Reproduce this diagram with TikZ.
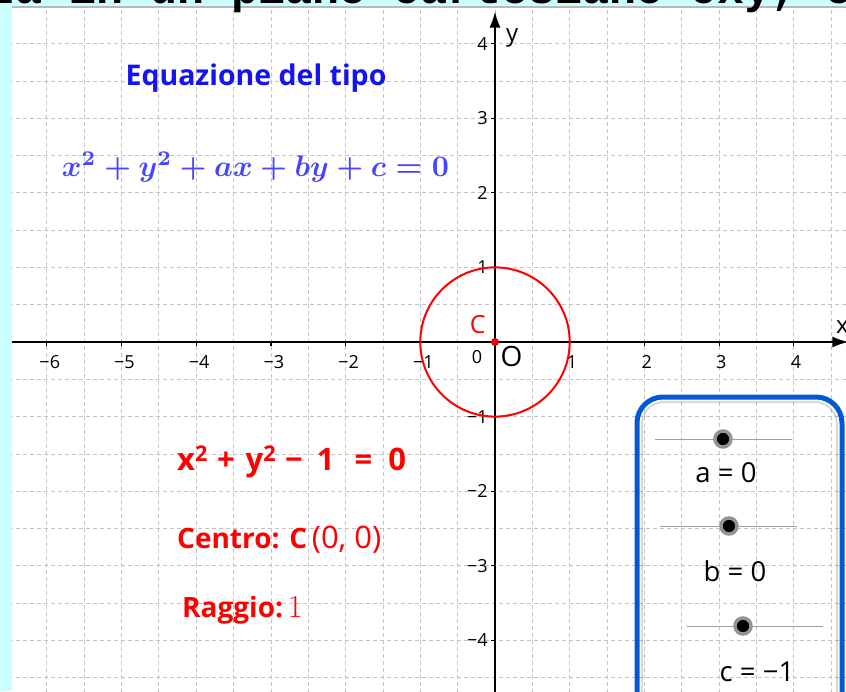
\documentclass[tikz,border=0pt]{standalone}
\usepackage{fontspec}
\usepackage{graphicx}
\usetikzlibrary{arrows.meta}
\newfontfamily\osans{Open Sans}
\newfontfamily\monob{Liberation Mono}
\definecolor{bgcyan}{RGB}{204,255,255}
\definecolor{gridc}{RGB}{195,195,195}
\definecolor{eqblue}{RGB}{20,20,240}
\definecolor{formblue}{RGB}{70,70,255}
\definecolor{boxblue}{RGB}{0,90,215}
\definecolor{txtred}{RGB}{255,0,0}
\tikzset{
  gridl/.style={draw=gridc, line width=0.8pt, dash pattern=on 4pt off 3pt},
  axisl/.style={line width=1.8pt, -{Latex[length=16pt,width=11pt]}},
  ticklab/.style={font=\osans\fontsize{18}{18}\selectfont, inner sep=0pt},
  bluet/.style={font=\osans\bfseries\fontsize{28.5}{28.5}\selectfont, text=eqblue, inner sep=0pt},
  redt/.style={font=\osans\bfseries\fontsize{28}{28}\selectfont, text=txtred, inner sep=0pt},
  sliderl/.style={draw=gray!75, line width=1pt},
  knob/.style={circle, fill=black, inner sep=0pt, minimum size=16pt, draw=gray!85, line width=3.5pt},
  slab/.style={font=\osans\fontsize{27.5}{27.5}\selectfont, inner sep=0pt}
}
\begin{document}
\begin{tikzpicture}[x=1pt,y=-1pt]
\useasboundingbox (0,0) rectangle (846,691);
\fill[white] (0,0) rectangle (846,691);
% grid
\begin{scope}
\clip (12,7) rectangle (846,691);
\begin{scope}[shift={(495,342)},x=74.7pt,y=74.6pt]
\foreach \k in {-13,...,9} \draw[gridl] (\k/2,-4.8) -- (\k/2,4.6);
\foreach \k in {-9,...,9} \draw[gridl] (-6.7,\k/2) -- (4.8,\k/2);
\end{scope}
\end{scope}
% frame bands
\fill[bgcyan] (0,0) rectangle (846,6);
\fill[bgcyan] (0,0) rectangle (11.5,691);
\draw[gray!55, line width=1.5pt] (11.5,6.8) -- (846,6.8);
\begin{scope}
\clip (0,0) rectangle (846,16);
\node[anchor=base west, inner sep=0pt, font=\monob\bfseries\fontsize{45}{45}\selectfont] (title) at (-66,3) {enza in un piano cartesiano Oxy, e};
\end{scope}
% axes and circle
\begin{scope}[shift={(495,342)},x=74.7pt,y=74.6pt]
\draw[axisl] (-6.47,0) -- (4.73,0);
\draw[axisl] (0,-4.7) -- (0,4.43);
\foreach \k in {1,...,6} \draw[line width=1.2pt] (-\k,0) -- (-\k,-0.05);
\foreach \k in {1,...,4} \draw[line width=1.2pt] (\k,0) -- (\k,-0.05);
\foreach \k in {1,...,4} {
  \draw[line width=1.2pt] (0,\k) -- (-0.05,\k);
  \draw[line width=1.2pt] (0,-\k) -- (-0.05,-\k);
}
\foreach \k in {1,...,6} \node[ticklab] (xm\k) at (-\k+0.04,-0.27) {−\k};
\foreach \k in {1,...,4} \node[ticklab] (xp\k) at (\k+0.03,-0.27) {\k};
\foreach \k in {1,...,4} {
  \node[ticklab, anchor=east] (yp\k) at (-0.095,\k) {\k};
  \node[ticklab, anchor=east] (ym\k) at (-0.095,-\k) {−\k};
}
\node[ticklab] (zero) at (-0.24,-0.2) {0};
\node[font=\osans\fontsize{28}{28}\selectfont, inner sep=0pt] (O) at (0.22,-0.19) {O};
\node[font=\osans\fontsize{24}{24}\selectfont, inner sep=0pt] (ylab) at (0.23,4.08) {y};
\node[font=\osans\fontsize{24}{24}\selectfont, inner sep=0pt] (xlab) at (4.65,0.2) {x};
\draw[txtred, line width=2pt] (0,0) circle[radius=1];
\fill[txtred, draw=red!60!black, line width=0.6pt] (0,0) circle[radius=3.6pt];
\node[font=\osans\fontsize{25}{25}\selectfont, text=txtred, inner sep=0pt] (Clab) at (-0.23,0.23) {C};
\end{scope}
% blue texts
\node[bluet] (eqtitle) at (256,78) {Equazione del tipo};
\node[text=formblue, inner sep=0pt] (formula) at (255.5,167) {\resizebox{387pt}{!}{\boldmath$x^2+y^2+ax+by+c=0$}};
% red texts
\node[redt, anchor=west, font=\osans\bfseries\fontsize{31}{31}\selectfont] (eq2) at (177,462) {x\textsuperscript{2}\hspace{9pt}+\hspace{11pt}y\textsuperscript{2}\hspace{9pt}−\hspace{14pt}1\hspace{20pt}=\hspace{16pt}0};
\node[redt, anchor=west] (centro) at (177,540) {Centro: C\,{\mdseries\fontsize{31}{31}\selectfont(0, 0)}};
\node[redt, anchor=west] (raggio) at (182,610) {Raggio:\,{\rmfamily\mdseries\fontsize{32}{32}\selectfont 1}};
% slider box
\draw[black, opacity=0.15, line width=2pt, rounded corners=22pt] (642,402) rectangle (837,730);
\draw[boxblue, line width=5pt, rounded corners=26pt] (637,397) rectangle (842,730);
\draw[sliderl] (655,439) -- (792,439);
\draw[sliderl] (660,526) -- (797,526);
\draw[sliderl] (687,626) -- (823,626);
\node[knob] (ka) at (723,439) {};
\node[knob] (kb) at (729,526) {};
\node[knob] (kc) at (743,626) {};
\node[slab] (la) at (726,473) {a = 0};
\node[slab] (lb) at (735,571) {b = 0};
\node[slab] (lc) at (757,672) {c = −1};
\end{tikzpicture}
\end{document}
